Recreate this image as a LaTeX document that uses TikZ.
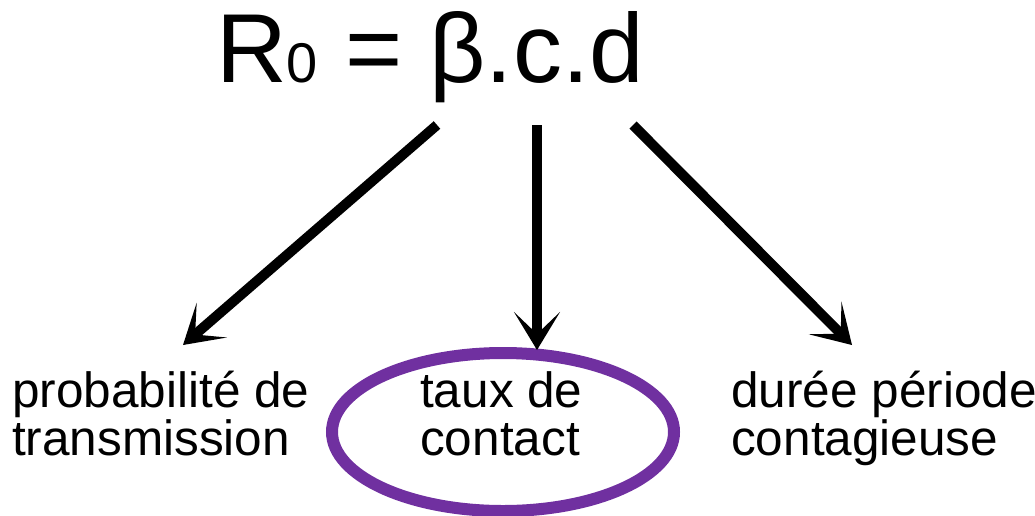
\documentclass[tikz,border=0pt]{standalone}
\usepackage{fontspec}
\setmainfont{Liberation Sans}
\usetikzlibrary{arrows.meta,shapes.geometric}
\definecolor{violetc}{HTML}{7030A0}
\tikzset{
  lbl/.style={anchor=north west, inner sep=0pt, align=left, font=\fontsize{49.5}{48}\selectfont},
  arr/.style={line width=10pt, -{Stealth[length=38pt,width=46pt,inset=22pt]}},
}
\begin{document}
\begin{tikzpicture}[x=1pt,y=-1pt]
\useasboundingbox (0,0) rectangle (1035,515);
\node[anchor=base, inner sep=0pt, font=\fontsize{98}{98}\selectfont] (t) at (430,82) {R{\fontsize{56}{56}\selectfont 0} = β.c.d};
\node[lbl] (p) at (12,371) {probabilité de\\transmission};
\node[lbl] (c) at (420,371) {taux de\\contact};
\node[lbl] (d) at (731,371) {durée période\\contagieuse};
\draw[violetc, line width=12pt] (503,432) ellipse (171pt and 79pt);
\coordinate (s1) at (437,125);
\coordinate (s2) at (537,125);
\coordinate (s3) at (633,125);
\coordinate (e1) at (183,345);
\coordinate (e2) at (537,350);
\coordinate (e3) at (852,345);
\draw[arr] (s1) -- (e1);
\draw[arr] (s2) -- (e2);
\draw[arr] (s3) -- (e3);
\end{tikzpicture}
\end{document}
